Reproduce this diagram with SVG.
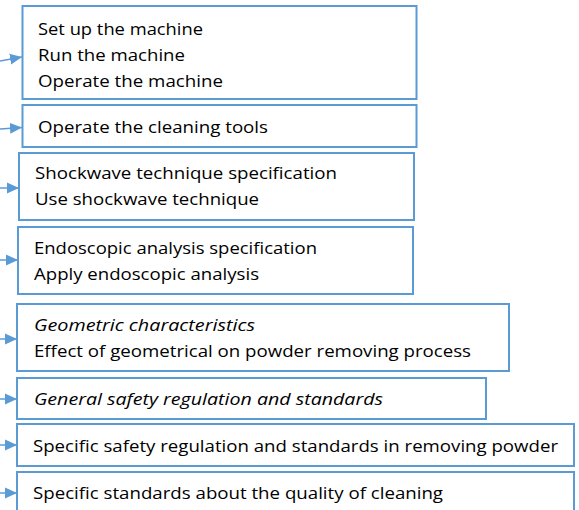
<svg xmlns="http://www.w3.org/2000/svg" width="579" height="510" viewBox="0 0 579 510">
<defs>
<style>
.box{fill:#ffffff;stroke:#5B9BD5;stroke-width:2}
.t{font-family:"Open Sans","Noto Sans","Liberation Sans",sans-serif;font-size:17px;fill:#000000}
.i{font-style:italic}
.c{fill:none;stroke:#5B9BD5;stroke-width:1.5}
</style>
<marker id="ah" markerUnits="userSpaceOnUse" markerWidth="12" markerHeight="12" refX="11" refY="5" orient="auto" viewBox="0 0 11 10">
<path d="M0,0 L11,5 L0,10 Z" fill="#5B9BD5"/>
</marker>
</defs>
<rect width="579" height="510" fill="#ffffff"/>
<g id="connectors">
<path class="c" d="M0,61 L22,57" marker-end="url(#ah)"/>
<path class="c" d="M0,129 L22,127.5" marker-end="url(#ah)"/>
<path class="c" d="M0,188 L19,188" marker-end="url(#ah)"/>
<path class="c" d="M0,260 L18,260" marker-end="url(#ah)"/>
<path class="c" d="M0,339 L17,339" marker-end="url(#ah)"/>
<path class="c" d="M0,399 L17,399" marker-end="url(#ah)"/>
<path class="c" d="M0,445 L17,445" marker-end="url(#ah)"/>
<path class="c" d="M0,493 L17,493" marker-end="url(#ah)"/>
</g>
<g id="n1">
<rect class="box" x="22.5" y="6" width="394" height="93"/>
<text class="t" x="38" y="35" textLength="165" lengthAdjust="spacingAndGlyphs">Set up the machine</text>
<text class="t" x="38" y="61" textLength="147" lengthAdjust="spacingAndGlyphs">Run the machine</text>
<text class="t" x="38" y="87" textLength="185" lengthAdjust="spacingAndGlyphs">Operate the machine</text>
</g>
<g id="n2">
<rect class="box" x="22.5" y="105" width="394" height="42"/>
<text class="t" x="38" y="133" textLength="230" lengthAdjust="spacingAndGlyphs">Operate the cleaning tools</text>
</g>
<g id="n3">
<rect class="box" x="19" y="153" width="395" height="67"/>
<text class="t" x="35" y="179" textLength="302" lengthAdjust="spacingAndGlyphs">Shockwave technique specification</text>
<text class="t" x="35" y="205" textLength="224" lengthAdjust="spacingAndGlyphs">Use shockwave technique</text>
</g>
<g id="n4">
<rect class="box" x="18" y="227" width="395" height="67"/>
<text class="t" x="34" y="254" textLength="283" lengthAdjust="spacingAndGlyphs">Endoscopic analysis specification</text>
<text class="t" x="34" y="280" textLength="225" lengthAdjust="spacingAndGlyphs">Apply endoscopic analysis</text>
</g>
<g id="n5">
<rect class="box" x="17" y="304" width="492" height="67"/>
<text class="t i" x="34" y="331" textLength="221" lengthAdjust="spacingAndGlyphs">Geometric characteristics</text>
<text class="t" x="34" y="357" textLength="437" lengthAdjust="spacingAndGlyphs">Effect of geometrical on powder removing process</text>
</g>
<g id="n6">
<rect class="box" x="17" y="378" width="469" height="41"/>
<text class="t i" x="34" y="405" textLength="349" lengthAdjust="spacingAndGlyphs">General safety regulation and standards</text>
</g>
<g id="n7">
<rect class="box" x="17" y="424" width="557" height="42"/>
<text class="t" x="33" y="452" textLength="525" lengthAdjust="spacingAndGlyphs">Specific safety regulation and standards in removing powder</text>
</g>
<g id="n8">
<rect class="box" x="17" y="472" width="557" height="50"/>
<text class="t" x="33" y="499" textLength="410" lengthAdjust="spacingAndGlyphs">Specific standards about the quality of cleaning</text>
</g>
</svg>
